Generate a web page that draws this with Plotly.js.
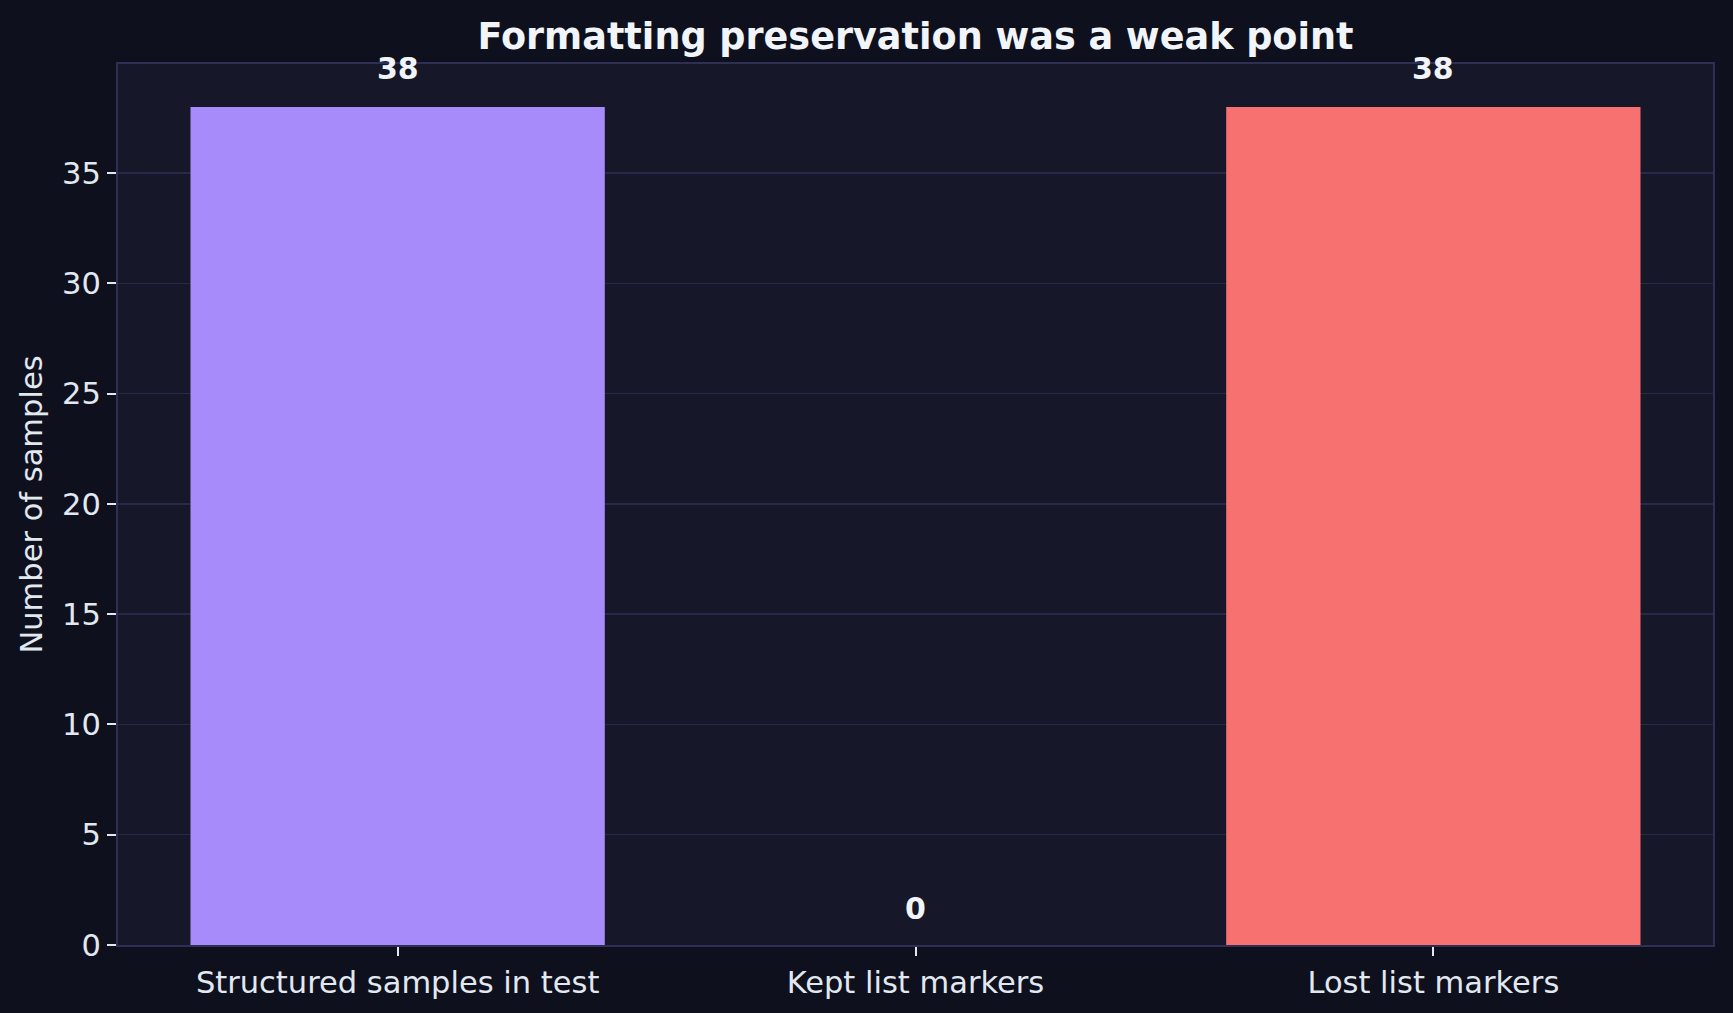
<!DOCTYPE html>
<html>
<head>
<meta charset="utf-8">
<script src="https://cdn.plot.ly/plotly-3.0.1.min.js"></script>
<style>html,body{margin:0;padding:0;background:#0e101e;}#chart{width:1733px;height:1013px;}</style>
</head>
<body>
<div id="chart"></div>
<script>
const categories = ["Structured samples in test", "Kept list markers", "Lost list markers"];
const values = [38, 0, 38];
const barColors = ["#a78bfa", "#a78bfa", "#f87171"];
const yTicks = [0, 5, 10, 15, 20, 25, 30, 35];
const chartTitle = "Formatting preservation was a weak point";
const yTitle = "Number of samples";

const font = "DejaVu Sans, sans-serif";

const trace = {
  type: "bar",
  x: [0, 1, 2],
  y: values,
  width: 0.8,
  marker: {color: barColors, line: {width: 0}},
  hoverinfo: "none"
};

const annotations = values.map((v, i) => ({
  x: i, y: v, xref: "x", yref: "y",
  text: "<b>" + v + "</b>",
  showarrow: false,
  yanchor: "middle",
  yshift: v > 0 ? 39 : 37,
  font: {family: font, size: 30, color: "#f1f5f9"}
}));

const layout = {
  width: 1733, height: 1013,
  paper_bgcolor: "#0e101e",
  plot_bgcolor: "#161829",
  margin: {l: 118, r: 20, t: 64, b: 68, pad: 0},
  showlegend: false,
  title: {
    text: "<b>" + chartTitle + "</b>",
    font: {family: font, size: 36.6, color: "#f1f5f9"},
    x: (118 + (1733 - 20 - 118) / 2) / 1733, xanchor: "center",
    y: 1 - 36 / 1013, yanchor: "middle"
  },
  xaxis: {
    range: [-0.54, 2.54],
    tickmode: "array",
    tickvals: [0, 1, 2],
    ticktext: categories,
    ticks: "outside", ticklen: 9, tickwidth: 2, tickcolor: "#e2e8f0",
    showgrid: false, zeroline: false,
    showline: true, linecolor: "#2f2e55", linewidth: 2, mirror: true,
    tickfont: {family: font, size: 30.5, color: "#e2e8f0"},
    fixedrange: true
  },
  yaxis: {
    range: [0, 39.95],
    tickmode: "array",
    tickvals: yTicks,
    ticks: "outside", ticklen: 9, tickwidth: 2, tickcolor: "#e2e8f0",
    showgrid: true, gridcolor: "#27284a", gridwidth: 1.5,
    zeroline: false,
    showline: true, linecolor: "#2f2e55", linewidth: 2, mirror: true,
    tickfont: {family: font, size: 30.5, color: "#e2e8f0"},
    title: {text: yTitle, font: {family: font, size: 30.5, color: "#e2e8f0"}, standoff: 10},
    automargin: false,
    fixedrange: true
  },
  annotations: annotations
};

Plotly.newPlot("chart", [trace], layout, {displayModeBar: false, staticPlot: true});
</script>
</body>
</html>
